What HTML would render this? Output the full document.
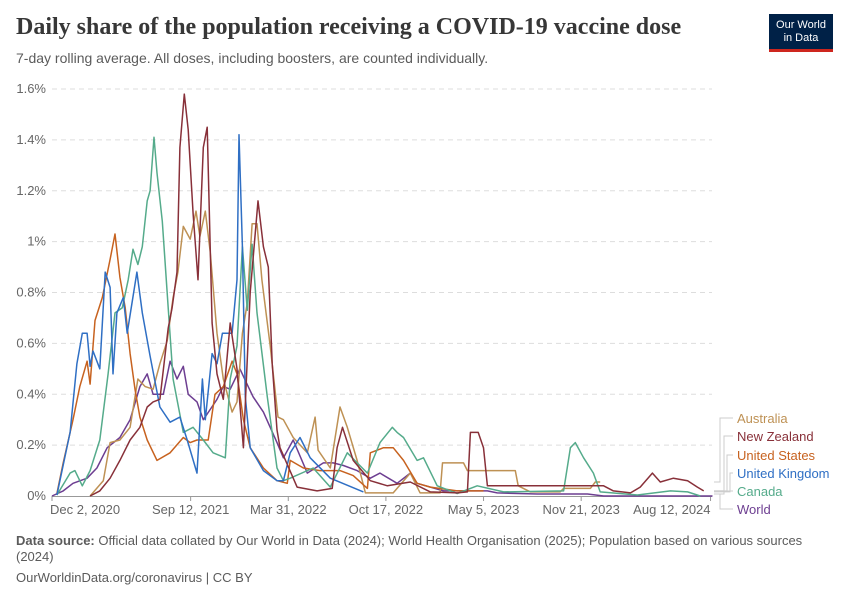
<!DOCTYPE html>
<html><head><meta charset="utf-8">
<style>
body{margin:0;background:#fff;width:850px;height:600px;overflow:hidden;font-family:"Liberation Sans",sans-serif}
#title{position:absolute;left:16px;top:14px;font-family:"Liberation Serif",serif;font-size:24px;font-weight:bold;color:#373737;margin:0}
#subtitle{position:absolute;left:16px;top:50px;font-size:14px;color:#5b5b5b}
#logo{position:absolute;left:769px;top:14px;width:64px;height:38px;background:#002147;border-bottom:3px solid #ce261e;color:#fff;font-size:11px;line-height:13px;text-align:center;box-sizing:border-box;padding-top:5px}
#source{position:absolute;left:16px;top:533px;width:800px;font-size:13px;color:#5b5b5b;line-height:16px}
#footer{position:absolute;left:16px;top:570px;font-size:13px;color:#5b5b5b}
svg{position:absolute;left:0;top:0}
</style></head><body>
<h1 id="title">Daily share of the population receiving a COVID-19 vaccine dose</h1>
<div id="subtitle">7-day rolling average. All doses, including boosters, are counted individually.</div>
<div id="logo">Our World<br>in Data</div>
<div id="source"><b>Data source:</b> Official data collated by Our World in Data (2024); World Health Organisation (2025); Population based on various sources (2024)</div>
<div id="footer">OurWorldinData.org/coronavirus | CC BY</div>
<svg id="chart" width="850" height="600"></svg>
<script>
const yTicks=[0,0.2,0.4,0.6,0.8,1,1.2,1.4,1.6];
const yTickLabels=["0%","0.2%","0.4%","0.6%","0.8%","1%","1.2%","1.4%","1.6%"];
const xTickDays=[0,284,484,684,884,1084,1349];
const xTickLabels=["Dec 2, 2020","Sep 12, 2021","Mar 31, 2022","Oct 17, 2022","May 5, 2023","Nov 21, 2023","Aug 12, 2024"];
const seriesNames=["Australia","New Zealand","United States","United Kingdom","Canada","World"];
const seriesColors=["#be9154","#883039","#c7621f","#2f6fc4","#55ab8b","#6d3e91"];
const ukDays=[10,37,51,62,72,78,84,98,109,119,125,133,146,154,174,185,201,221,242,262,277,297,308,314,328,338,349,369,379,383,390,396,406,433,461,474,488,508,529,570,638];
const ukVals=[0.004,0.25,0.52,0.64,0.64,0.51,0.57,0.50,0.88,0.82,0.48,0.72,0.78,0.64,0.88,0.72,0.55,0.35,0.29,0.31,0.22,0.09,0.46,0.30,0.56,0.52,0.64,0.64,0.85,1.42,0.98,0.39,0.19,0.10,0.06,0.06,0.17,0.23,0.15,0.07,0.016];
const caDays=[10,37,47,62,78,98,115,129,144,156,166,176,185,195,201,209,215,226,238,248,269,289,310,330,355,365,379,390,400,410,420,441,461,474,488,535,570,605,646,672,697,707,720,748,761,789,830,871,925,1048,1062,1072,1089,1109,1123,1199,1267,1302,1328];
const caVals=[0.004,0.09,0.10,0.04,0.10,0.22,0.48,0.72,0.74,0.85,0.97,0.91,0.98,1.16,1.20,1.41,1.27,1.08,0.74,0.46,0.25,0.27,0.22,0.17,0.15,0.46,0.59,0.98,0.73,0.99,0.72,0.39,0.11,0.06,0.07,0.11,0.035,0.17,0.09,0.21,0.27,0.25,0.23,0.14,0.15,0.04,0.01,0.04,0.016,0.02,0.19,0.21,0.15,0.09,0.016,0.004,0.02,0.016,0];
const nzDays=[78,98,119,139,160,180,195,207,221,238,246,256,262,271,279,289,299,310,318,328,338,351,365,379,392,406,422,433,443,451,461,467,502,543,574,584,595,617,652,687,734,775,830,851,857,867,873,884,892,1130,1150,1185,1205,1230,1246,1273,1302,1322,1335];
const nzVals=[0,0.02,0.07,0.14,0.22,0.27,0.35,0.37,0.38,0.66,0.74,0.88,1.37,1.58,1.44,1.11,0.85,1.37,1.45,0.68,0.48,0.38,0.68,0.50,0.19,0.80,1.16,0.98,0.90,0.52,0.26,0.19,0.035,0.02,0.03,0.19,0.27,0.14,0.06,0.04,0.055,0.016,0.012,0.016,0.25,0.25,0.25,0.19,0.04,0.04,0.02,0.012,0.035,0.09,0.055,0.07,0.06,0.035,0.02];
const usDays=[10,23,43,57,72,78,88,103,119,129,139,150,160,170,180,195,215,242,269,283,297,320,334,351,369,379,392,406,433,461,482,488,515,549,590,617,646,652,679,699,720,748,775,830,884];
const usVals=[0.01,0.13,0.30,0.43,0.53,0.44,0.69,0.78,0.93,1.03,0.86,0.74,0.56,0.42,0.31,0.22,0.14,0.17,0.23,0.21,0.22,0.22,0.40,0.43,0.53,0.48,0.30,0.19,0.11,0.06,0.05,0.14,0.11,0.10,0.10,0.08,0.03,0.17,0.19,0.19,0.14,0.05,0.035,0.02,0.02];
const auDays=[78,105,119,139,160,176,191,207,221,236,248,258,269,283,295,303,314,324,338,351,369,379,390,400,410,420,430,447,463,474,494,523,539,545,570,590,605,625,642,699,734,754,795,800,843,851,949,955,980,1041,1048,1103,1113,1123];
const auVals=[0,0.06,0.21,0.22,0.27,0.46,0.43,0.42,0.52,0.61,0.78,0.88,1.06,1.01,1.12,1.02,1.12,0.96,0.64,0.46,0.33,0.37,0.64,0.76,1.07,1.07,0.85,0.59,0.31,0.30,0.23,0.17,0.31,0.18,0.11,0.35,0.27,0.14,0.012,0.012,0.09,0.012,0.012,0.13,0.13,0.10,0.10,0.04,0.016,0.016,0.03,0.03,0.055,0.055];
const wdDays=[0,23,43,72,92,113,139,160,180,195,207,228,242,256,269,279,297,310,324,338,351,365,385,402,412,433,461,474,494,523,556,576,597,625,652,672,707,734,748,802,892,912,994,1097,1130,1353];
const wdVals=[0,0.02,0.05,0.07,0.11,0.19,0.23,0.30,0.43,0.48,0.40,0.40,0.53,0.46,0.51,0.40,0.37,0.30,0.34,0.38,0.43,0.42,0.50,0.43,0.39,0.33,0.21,0.15,0.22,0.09,0.13,0.13,0.12,0.10,0.07,0.09,0.05,0.09,0.05,0.02,0.02,0.012,0.008,0.008,0,0];
const seriesDays=[auDays,nzDays,usDays,ukDays,caDays,wdDays];
const seriesVals=[auVals,nzVals,usVals,ukVals,caVals,wdVals];

const X0=52,X1=712,Y0=496,Y1=89,DMAX=1352,VMAX=1.6;
const xs=d=>X0+(X1-X0)*d/DMAX;
const ys=v=>Y0-(Y0-Y1)*v/VMAX;
const NS="http://www.w3.org/2000/svg";
const svg=document.getElementById('chart');
function mk(tag,attrs,parent){const e=document.createElementNS(NS,tag);for(const k in attrs)e.setAttribute(k,attrs[k]);(parent||svg).appendChild(e);return e;}

yTicks.forEach((t,i)=>{
  if(i>0){const g=mk('line',{x1:X0,x2:X1,y1:ys(t),y2:ys(t),stroke:'#ddd','stroke-dasharray':'5,4'});
  
  }
  const tx=mk('text',{x:46,y:ys(t)+4,'text-anchor':'end','font-size':13,fill:'#666','font-family':'Liberation Sans'});
  tx.textContent=yTickLabels[i];
  
  
});
const ax=mk('line',{x1:X0,x2:X1,y1:Y0+0.5,y2:Y0+0.5,stroke:'#999'});


xTickDays.forEach((d,i)=>{
  const x=xs(d);
  const tk=mk('line',{x1:x,x2:x,y1:Y0,y2:Y0+5,stroke:'#999'});
  
  
  let anchor='middle',tx=x;
  if(i===0){anchor='start';tx=x-2;}
  if(i===xTickDays.length-1){anchor='end';tx=x;}
  const t=mk('text',{x:tx,y:Y0+18,'text-anchor':anchor,'font-size':13,fill:'#666','font-family':'Liberation Sans'});
  t.textContent=xTickLabels[i];
  
  
});
const drawOrder=[5,0,2,4,3,1];
drawOrder.forEach(i=>{
  const pts=seriesDays[i].map((d,j)=>xs(d).toFixed(1)+','+ys(seriesVals[i][j]).toFixed(1)).join(' ');
  const p=mk('polyline',{points:pts,fill:'none',stroke:seriesColors[i],'stroke-width':1.5,'stroke-linejoin':'round'});
  
  
});
const labelY=[418,436,455,473,491,509];
const elbowX=[720,724,727,730,724,720];
seriesNames.forEach((n,i)=>{
  const di=seriesDays[i],vi=seriesVals[i];
  const endY=ys(vi[vi.length-1]);
  const c=mk('polyline',{points:`714,${Math.min(endY,494)} ${elbowX[i]},${Math.min(endY,494)} ${elbowX[i]},${labelY[i]} 733,${labelY[i]}`,fill:'none',stroke:'#ccc'});
  
  
  const t=mk('text',{x:737,y:labelY[i]+5,'font-size':13,fill:seriesColors[i],'font-family':'Liberation Sans'});
  t.textContent=n;
  
  
});
</script>
</body></html>
